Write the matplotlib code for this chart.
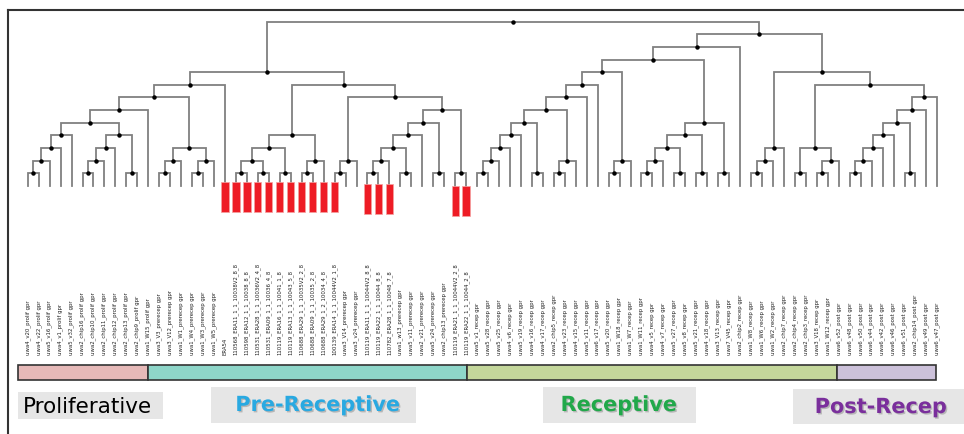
import matplotlib
matplotlib.use('Agg')
import matplotlib.pyplot as plt
import matplotlib.patheffects as pe
from matplotlib.patches import Rectangle

# leaf labels, left to right
labels = [
    'uwa4_v20_prolif gpr', 'uwa4_v22_prolif gpr', 'uwa5_v16_prolif gpr', 'uwa4_v1_prolif gpr',
    'uwa5_v32_prolif gpr', 'uwa2_chip16_prolif gpr', 'uwa2_chip10_prolif gpr', 'uwa2_chip11_prolif gpr',
    'uwa2_chip12_prolif gpr', 'uwa2_chip13_prolif gpr', 'uwa2_chip9_prolif gpr', 'uwa1_W15_prolif gpr',
    'uwa3_V3_prerecep gpr', 'uwa3_V12_prerecep gpr', 'uwa1_W1_prerecep gpr', 'uwa1_W4_prerecep gpr',
    'uwa1_W3_prerecep gpr', 'uwa1_W5_prerecep gpr', 'ERA54',
    '110568_ERA11_1_1_10038V2_8_8', '110598_ERA12_1_1_10038_8_8', '110531_ERA28_1_1_10036V2_4_8',
    '110531_ERA09_1_1_10036_4_8', '110119_ERA16_1_1_10041_1_8', '110119_ERA13_1_1_10043_5_8',
    '110688_ERA29_1_1_10035V2_2_8', '110688_ERA09_1_1_10035_2_8', '110688_ERA29_1_2_10034_4_8',
    '100139_ERA14_1_1_10044V2_1_8', 'uwa3_V14_prerecep gpr', 'uwa3_v24_prerecep gpr',
    '110119_ERA11_1_1_10044V2_8_8', '110119_ERA22_1_1_10044_8_8', '110782_ERA28_1_1_10048_7_8',
    'uwa1_w13_prerecep gpr', 'uwa5_v11_prerecep gpr', 'uwa2_v21_prerecep gpr', 'uwa5_v24_prerecep gpr',
    'uwa2_chip13_prerecep gpr', '110119_ERA21_1_1_10044V2_2_8', '110119_ERA22_1_1_10044_2_8',
    'uwa5_v1_recep gpr', 'uwa5_v28_recep gpr', 'uwa5_v25_recep gpr', 'uwa4_v6_recep gpr',
    'uwa5_v19_recep gpr', 'uwa4_v16_recep gpr', 'uwa4_v17_recep gpr', 'uwa2_chip5_recep gpr',
    'uwa4_v23_recep gpr', 'uwa4_v15_recep gpr', 'uwa5_v11_recep gpr', 'uwa6_v17_recep gpr',
    'uwa5_v20_recep gpr', 'uwa1_W18_recep gpr', 'uwa1_W7_recep gpr', 'uwa1_W11_recep gpr',
    'uwa4_v5_recep gpr', 'uwa4_v7_recep gpr', 'uwa5_v27_recep gpr', 'uwa5_v8_recep gpr',
    'uwa5_v21_recep gpr', 'uwa4_v18_recep gpr', 'uwa3_V13_recep gpr', 'uwa7_V45_recep gpr',
    'uwa2_chip2_recep gpr', 'uwa1_W8_recep gpr', 'uwa1_W6_recep gpr', 'uwa1_W2_recep gpr',
    'uwa2_chip7_recep gpr', 'uwa2_chip4_recep gpr', 'uwa2_chip3_recep gpr', 'uwa3_V18_recep gpr',
    'uwa1_W12_recep gpr',
    'uwa6_v52_post gpr', 'uwa6_v48_post gpr', 'uwa6_v50_post gpr', 'uwa6_v44_post gpr',
    'uwa6_v42_post gpr', 'uwa6_v46_post gpr', 'uwa6_v51_post gpr', 'uwa2_chip14_post gpr',
    'uwa6_v49_post gpr', 'uwa6_v47_post gpr',
]

# tree nodes are (left, right, merge level); ints are leaf indices
clA = ((((0, 1, 1), 2, 2), 3, 3), 4, 4)
clB = ((((5, 6, 1), 7, 2), 8, 3), (9, 10, 1), 4)
clC = (((12, 13, 1), 14, 2), ((15, 16, 1), 17, 2), 3)
prolif = ((((clA, clB, 5), 11, 6), clC, 7), 18, 8)
eraM = ((((19, 20, 1), (21, 22, 1), 2), (23, 24, 1), 3), ((25, 26, 1), 27, 2), 4)
preN = ((((((31, 32, 1), 33, 2), (34, 35, 1), 3), 36, 4), (37, 38, 1), 5), (39, 40, 1), 6)
pre = (eraM, (((28, 29, 1), 30, 2), preN, 7), 8)
recL = ((((((41, 42, 1), 43, 2), 44, 3), 45, 4), (46, 47, 1), 5), ((48, 49, 1), 50, 2), 6)
recL = (((recL, 51, 7), 52, 8), ((53, 54, 1), 55, 2), 9)
recR = (((((56, 57, 1), 58, 2), (59, 60, 1), 3), (61, 62, 1), 4), (63, 64, 1), 5)
postN = (((((((75, 76, 1), 77, 2), 78, 3), 79, 4), (80, 81, 1), 5), 82, 6), 83, 7)
post = ((((66, 67, 1), 68, 2), 69, 3), (((70, 71, 1), ((72, 73, 1), 74, 2), 3), postN, 8), 9)
tree = ((prolif, pre, 9), (((recL, recR, 10), 65, 11), post, 12), 13)

# leaves flagged with red bars
marked_groups = [list(range(18, 29)), [31, 32, 33], [39, 40]]

phase_names = ['Proliferative', 'Pre-Receptive', 'Receptive', 'Post-Recep']
phase_edges = [-0.9, 11.0, 40.1, 73.85, 82.85]
phase_colors = ['#e6b9b8', '#8ed6c9', '#c4d79b', '#ccc1da']
text_colors = ['black', '#29a9e1', '#21a84a', '#7a2f9c']


# pixel -> data helpers for layout
def ux(px):
    return (px - 27.7) / 10.96


def ly(py):
    return (186 - py) / 12.65


fig = plt.figure(figsize=(9.64, 4.34), dpi=100)
ax = fig.add_axes([0, 0, 1, 1])
ax.set_xlim(ux(0), ux(964))
ax.set_ylim(ly(434), ly(0))
ax.axis('off')


def draw(node):
    if isinstance(node, int):
        return node, 0
    left, right, level = node
    xl, yl = draw(left)
    xr, yr = draw(right)
    ax.plot([xl, xl, xr, xr], [yl, level, level, yr], color='#808080', lw=1.3,
            solid_joinstyle='miter', zorder=2)
    x = (xl + xr) / 2
    ax.plot(x, level, 'o', ms=2.2, color='black', zorder=3)
    return x, level


draw(tree)

# red marker bars
bar_spans = [(ly(182.3), ly(211.7)), (ly(184), ly(214)), (ly(185.7), ly(215.7))]
for grp, (top, bot) in zip(marked_groups, bar_spans):
    ax.bar(grp, top - bot, bottom=bot, width=0.66, color='#ee1c25',
           edgecolor='#f5a0a0', lw=0.5, zorder=4)

# leaf labels
for i, lab in enumerate(labels):
    ax.text(i, ly(355), lab, rotation=90, ha='center', va='bottom', fontsize=3.9,
            color='#222222', family='DejaVu Sans')

# phase colour strip
for k in range(len(phase_names)):
    ax.add_patch(Rectangle((phase_edges[k], ly(380)), phase_edges[k + 1] - phase_edges[k],
                           ly(365) - ly(380), facecolor=phase_colors[k],
                           edgecolor='#333333', lw=1.2, zorder=3))

# phase name boxes
boxes = [(18, 163, 392, 419), (211, 416, 387, 423), (543, 696, 387, 423), (793, 966, 389, 424)]
text_x = [87, 318, 619, 881]
text_y = [407, 405, 405, 407]
for k, name in enumerate(phase_names):
    x0, x1, y0, y1 = boxes[k]
    ax.add_patch(Rectangle((ux(x0), ly(y1)), ux(x1) - ux(x0), ly(y0) - ly(y1),
                           facecolor='#e6e6e6', edgecolor='none', zorder=1))
    if k == 0:
        ax.text(ux(text_x[k]), ly(text_y[k]), name, ha='center', va='center',
                fontsize=15.5, color=text_colors[k], family='DejaVu Sans')
    else:
        ax.text(ux(text_x[k]), ly(text_y[k]), name, ha='center', va='center',
                fontsize=15, fontweight='bold', color=text_colors[k], family='DejaVu Sans',
                path_effects=[pe.SimplePatchShadow(offset=(1, -1), shadow_rgbFace='#888888',
                                                   alpha=0.5), pe.Normal()])

# frame lines (top and left)
ax.plot([ux(8), ux(964)], [ly(10), ly(10)], color='#333333', lw=1.5)
ax.plot([ux(8), ux(8)], [ly(10), ly(434)], color='#333333', lw=1.5)

fig.savefig('out.png', dpi=100)
